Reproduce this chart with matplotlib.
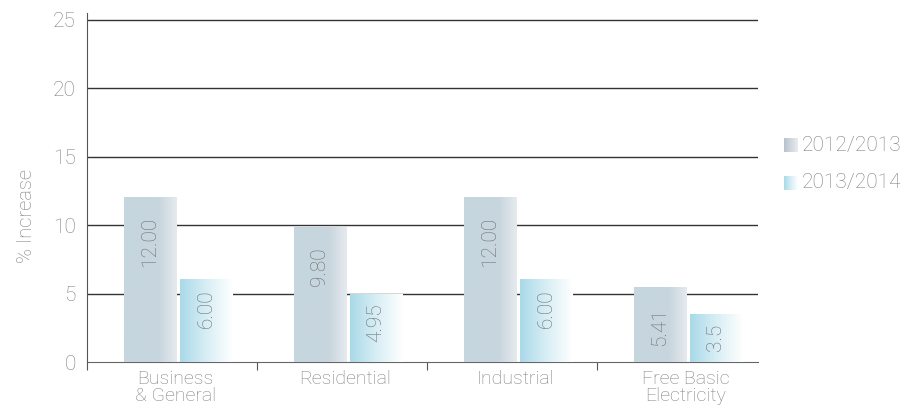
import numpy as np
import matplotlib.pyplot as plt
from matplotlib.colors import LinearSegmentedColormap

# data
categories = ["Business\n& General", "Residential", "Industrial", "Free Basic\nElectricity"]
y2012 = [12.00, 9.80, 12.00, 5.41]
y2013 = [6.00, 4.95, 6.00, 3.5]
labels2012 = ["12.00", "9.80", "12.00", "5.41"]
labels2013 = ["6.00", "4.95", "6.00", "3.5"]
series = ["2012/2013", "2013/2014"]

plt.rcParams['font.family'] = ['Roboto', 'DejaVu Sans']
plt.rcParams['font.weight'] = 'light'
grey = "#808080"

cmap1 = LinearSegmentedColormap.from_list("c1", ["#c6d6de", "#c6d6de", "#c8d6de", "#e6eaee"])
cmap2 = LinearSegmentedColormap.from_list("c2", ["#a9d9e8", "#d8eef5", "#ffffff"])

fig = plt.figure(figsize=(9.1, 4.08), dpi=100)
ax = fig.add_axes([87/910, 46/408, (758-87)/910, (395-46)/408])

grad = np.linspace(0, 1, 256).reshape(1, -1)
w = 0.31
for i in range(len(categories)):
    for x0, h, cm in [(i + 0.215, y2012[i], cmap1), (i + 0.545, y2013[i], cmap2)]:
        ax.imshow(grad, cmap=cm, aspect='auto', extent=(x0, x0 + w, 0, h),
                  zorder=3, interpolation='bicubic')
    ax.text(i + 0.37, y2012[i] - 1.4, labels2012[i], rotation=90, ha='center', va='top',
            color="#707070", fontsize=15, zorder=4)
    ax.text(i + 0.70, y2013[i] - 0.7, labels2013[i], rotation=90, ha='center', va='top',
            color="#707070", fontsize=15, zorder=4)

ax.set_xlim(0, 671/170)
ax.set_ylim(0, 25.5)

for yv in [5, 10, 15, 20, 25]:
    ax.axhline(yv, color="#333333", lw=1, zorder=1)

ax.set_yticks([0, 5, 10, 15, 20, 25])
ax.set_yticklabels(["0", "5", "10", "15", "20", "25"], color=grey, fontsize=15)
ax.tick_params(axis='y', length=0, pad=8)
ax.set_xticks([0, 1, 2, 3])
ax.set_xticklabels([])
ax.tick_params(axis='x', direction='out', length=6, color="#555555")
for i, c in enumerate(categories):
    ax.text(i + 0.52, -0.55, c, ha='center', va='top', color=grey, fontsize=14,
            linespacing=0.95)

for s in ["top", "right"]:
    ax.spines[s].set_visible(False)
ax.spines["left"].set_color("#555555")
ax.spines["bottom"].set_color("#666666")
ax.spines["left"].set_bounds(0, 25.5)

fig.text(27/910, 1 - 216/408, "% Increase", rotation=90, ha='center', va='center',
         color=grey, fontsize=14.5)

# legend
for k, (name, cm) in enumerate(zip(series, [cmap1, cmap2])):
    yy = 1 - (145 + 38 * k) / 408
    lax = fig.add_axes([784/910, yy - 7/408, 14/910, 14/408])
    lax.imshow(grad, cmap=cm if k else LinearSegmentedColormap.from_list("l", ["#b8c2cc", "#e8ecf0"]),
               aspect='auto')
    lax.axis('off')
    fig.text(802/910, yy, name, ha='left', va='center', color=grey, fontsize=15)

fig.savefig("out.png", dpi=100)
